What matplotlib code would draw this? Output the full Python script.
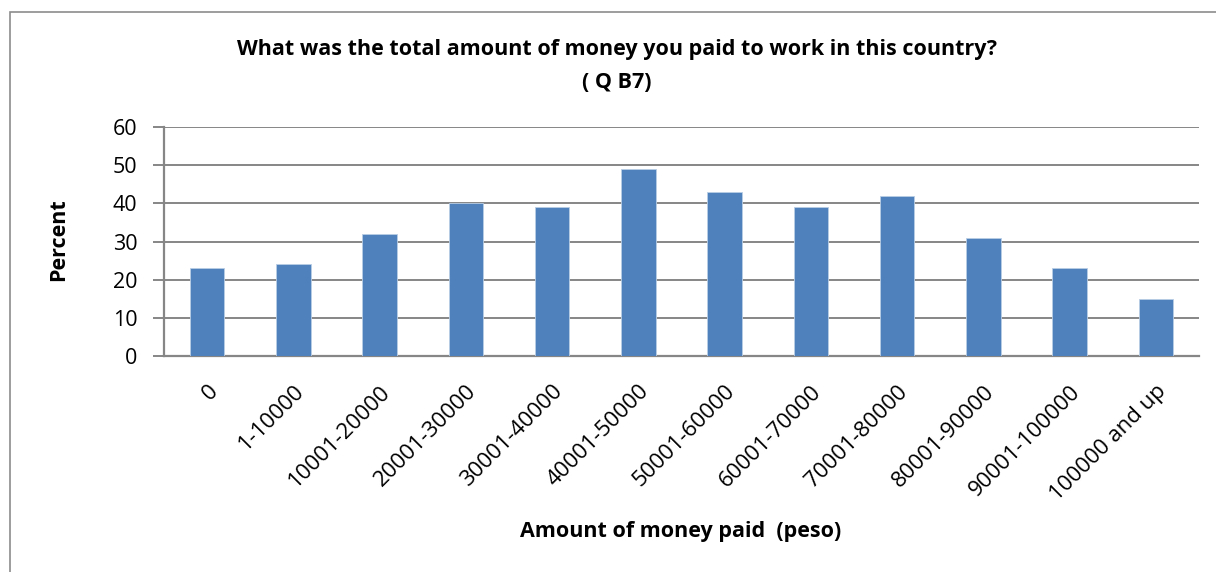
import matplotlib
matplotlib.use("Agg")
import matplotlib.pyplot as plt
from matplotlib.patches import Rectangle

categories = ["0", "1-10000", "10001-20000", "20001-30000", "30001-40000",
              "40001-50000", "50001-60000", "60001-70000", "70001-80000",
              "80001-90000", "90001-100000", "100000 and up"]
percent = [23, 24, 32, 40, 39, 49, 43, 39, 42, 31, 23, 15]
yticks = [0, 10, 20, 30, 40, 50, 60]

title = "What was the total amount of money you paid to work in this country?\n( Q B7)"
xlabel = "Amount of money paid  (peso)"
ylabel = "Percent"

plt.rcParams['font.family'] = ['Open Sans', 'DejaVu Sans']

W, H = 1216, 572
fig = plt.figure(figsize=(W / 100, H / 100), dpi=100)
ax = fig.add_axes([164 / W, 1 - 356 / H, (1199 - 164) / W, (356 - 127) / H])

grid_c = "#868686"
x = list(range(len(categories)))
ax.bar(x, percent, width=0.4, color="#4F81BD", edgecolor="#B9CDE5", linewidth=0.6, zorder=3)

ax.set_xlim(-0.5, len(categories) - 0.5)
ax.set_ylim(0, 60)
ax.set_yticks(yticks)
ax.yaxis.grid(True, color=grid_c, linewidth=1.4, zorder=0)
ax.set_axisbelow(True)

for s in ["top", "right"]:
    ax.spines[s].set_visible(False)
for s in ["left", "bottom"]:
    ax.spines[s].set_color(grid_c)
    ax.spines[s].set_linewidth(1.6)

ax.tick_params(axis="y", length=8, width=1.4, color=grid_c, labelsize=15.5, pad=11)
ax.tick_params(axis="x", length=0, labelsize=16, pad=18)
ax.set_xticks(x)
ax.set_xticklabels(categories, rotation=45, ha="right", rotation_mode="anchor")

fig.text(617 / W, 1 - 66 / H, title, ha="center", va="center", fontsize=15.5,
         fontweight="bold", linespacing=1.75)
fig.text(59 / W, 1 - 240 / H, ylabel, ha="center", va="center", rotation=90,
         fontsize=15.5, fontweight="bold")
fig.text(681 / W, 1 - 532 / H, xlabel, ha="center", va="center",
         fontsize=15.5, fontweight="bold")

fig.patches.append(Rectangle((10 / W, -0.05), 1.2, 1 - 12 / H + 0.05,
                             transform=fig.transFigure, fill=False,
                             edgecolor="#8c8c8c", linewidth=1.2))

fig.savefig("out.png", dpi=100)
